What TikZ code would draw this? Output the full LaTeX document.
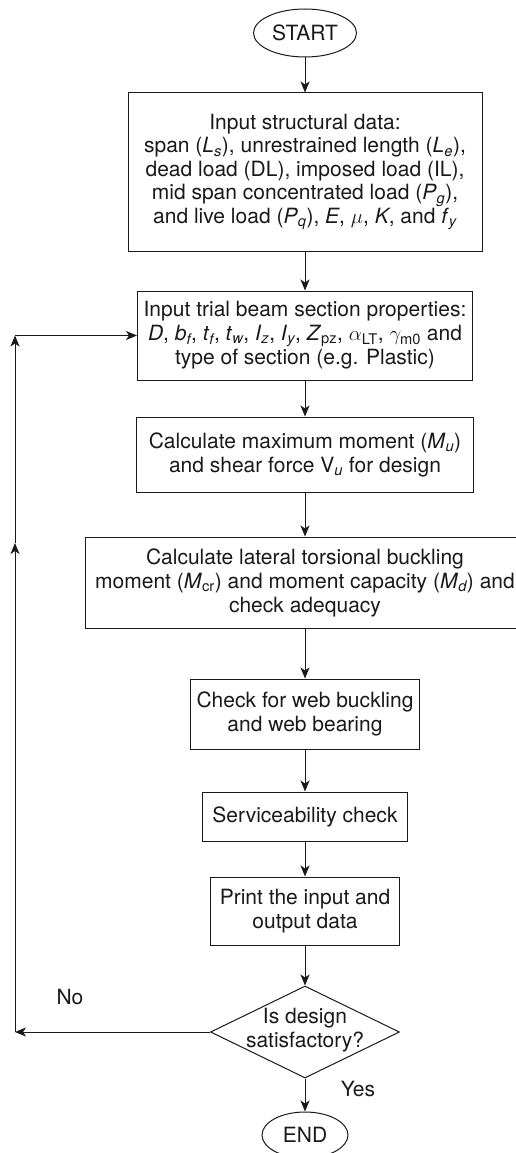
\documentclass[tikz,border=0pt]{standalone}
\usepackage{amsmath}
\usepackage{fontspec}
\setmainfont{TeX Gyre Heros}
\usetikzlibrary{shapes.geometric,arrows.meta}
\newcommand{\sv}[2]{\textit{#1}$_{\textit{#2}}$}
\newcommand{\su}[2]{\textit{#1}$_{\text{#2}}$}

\begin{document}
\begin{tikzpicture}[x=1pt, y=-1pt, line width=1pt, draw=black!90, text=black!90,
		font=\fontsize{21}{24}\selectfont,
		box/.style={draw, rectangle, align=center, inner sep=0pt},
		term/.style={draw, ellipse, inner sep=0pt},
		decision/.style={draw, diamond, inner sep=0pt},
		>={Stealth[length=11pt,width=9pt,inset=3pt]}]
		\useasboundingbox (0,0) rectangle (516,1153);
		
		\node[term, minimum width=103pt, minimum height=48pt] (start) at (305,33) {START};
		
		\node[box, minimum width=354pt, minimum height=158pt, font=\fontsize{21}{23.5}\selectfont] (data) at (305,172)
		{Input structural data:\\ span (\sv{L}{s}), unrestrained length (\sv{L}{e}),\\ dead load (DL), imposed load (IL),\\ mid span concentrated load (\sv{P}{g}),\\ and live load (\sv{P}{q}), \textit{E}, $\mu$, \textit{K}, and \sv{f}{y}};
		
		\node[box, minimum width=335pt, minimum height=89pt] (trial) at (305,335.5)
		{Input trial beam section properties:\\ \textit{D}, \sv{b}{f}, \sv{t}{f}, \sv{t}{w}, \sv{I}{z}, \sv{I}{y}, \su{Z}{pz}, $\alpha_{\text{LT}}$, $\gamma_{\text{m0}}$ and\\ type of section (e.g. Plastic)};
		
		\node[box, minimum width=337pt, minimum height=75pt] (moment) at (305,454.5)
		{Calculate maximum moment (\sv{M}{u})\\ and shear force V$_{\textit{u}}$ for design};
		
		\node[box, minimum width=440pt, minimum height=91pt] (ltb) at (305,582.5)
		{Calculate lateral torsional buckling\\ moment (\su{M}{cr}) and moment capacity (\sv{M}{d}) and\\ check adequacy};
		
		\node[box, minimum width=229pt, minimum height=70pt] (web) at (305,714)
		{Check for web buckling\\ and web bearing};
		
		\node[box, minimum width=205pt, minimum height=49pt] (serv) at (305,816.5)
		{Serviceability check};
		
		\node[box, minimum width=189pt, minimum height=68pt] (print) at (305,911)
		{Print the input and\\ output data};
		
		\node[decision, minimum width=189pt, minimum height=92pt] (dec) at (305,1032) {};
		\node[align=center] (dectext) at (305,1030) {Is design\\ satisfactory?};
		
		\node[term, minimum width=86pt, minimum height=46pt] (end) at (305,1135) {END};
		
		\draw[->] (start) -- (data);
		\draw[->] (data) -- (trial);
		\draw[->] (trial) -- (moment);
		\draw[->] (moment) -- (ltb);
		\draw[->] (ltb) -- (web);
		\draw[->] (web) -- (serv);
		\draw[->] (serv) -- (print);
		\draw[->] (print) -- (dec);
		\draw[->] (dec) -- (end);
		
		% loop back
		\coordinate (lpa) at (15,1032);
		\coordinate (lpb) at (15,543);
		\coordinate (lpc) at (15,335.5);
		\draw[->] (dec) -- (lpa);
		\draw[->] (lpa) -- (lpb);
		\draw[->] (lpb) -- (lpc);
		\draw[->] (lpc) -- (lpc -| trial.west);
		
		\node (no) at (70,997) {No};
		\node (yes) at (358,1089) {Yes};
\end{tikzpicture}
\end{document}
